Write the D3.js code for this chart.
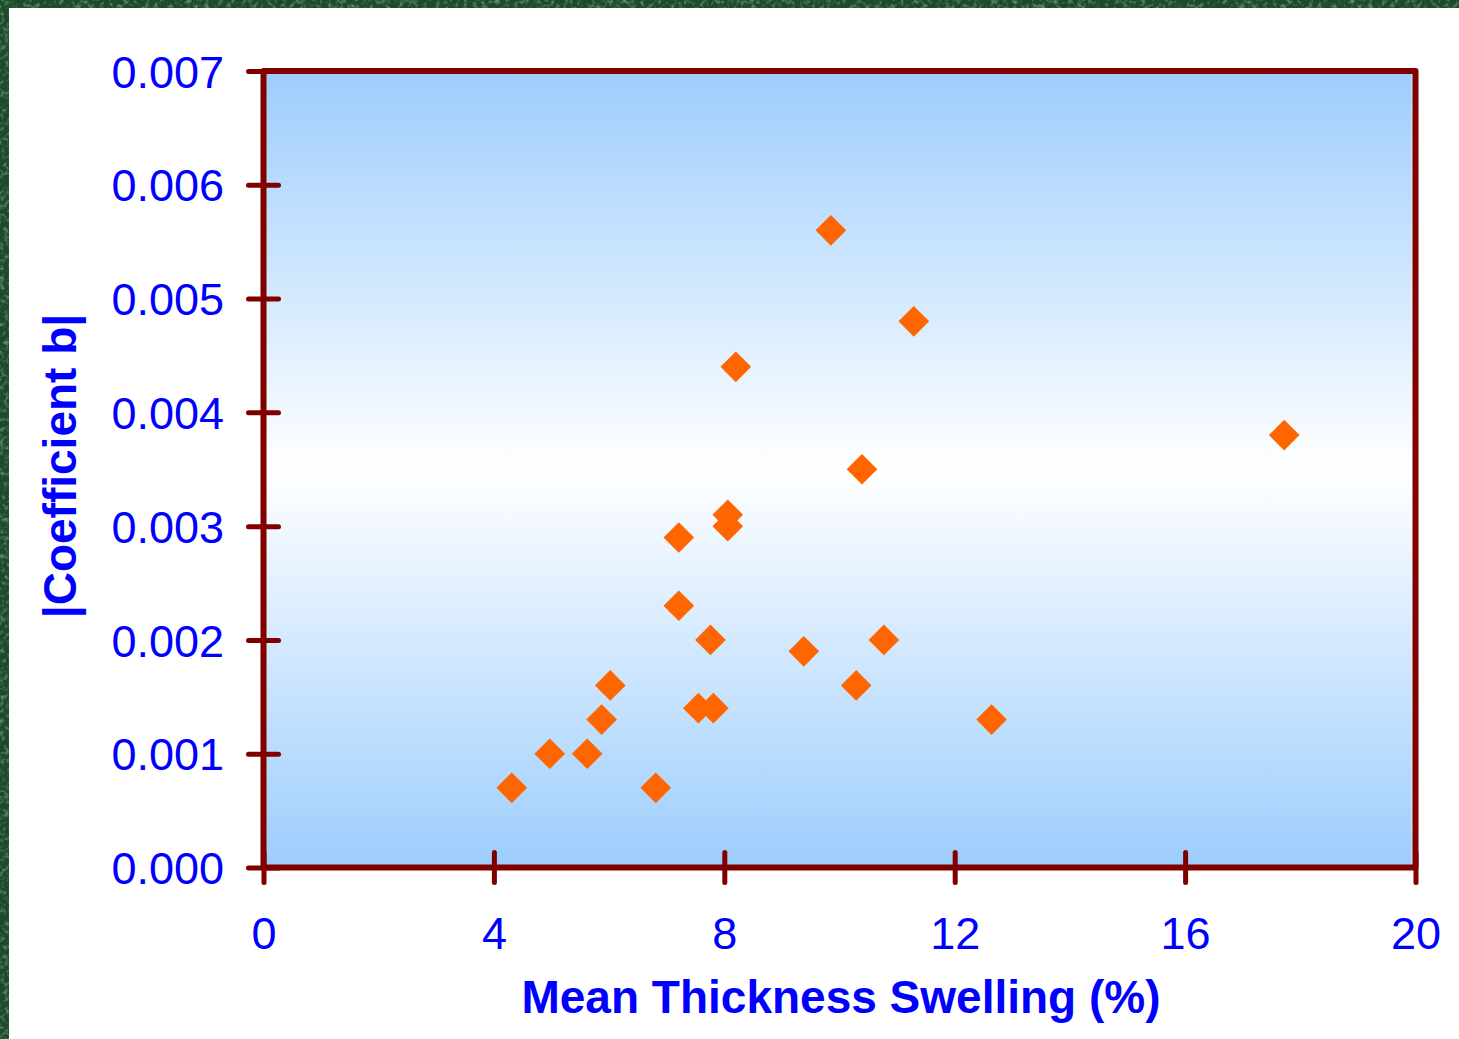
<!DOCTYPE html>
<html>
<head>
<meta charset="utf-8">
<script src="https://cdn.jsdelivr.net/npm/d3@7"></script>
<style>
  html, body { margin: 0; padding: 0; background: #ffffff; }
  svg { display: block; }
</style>
</head>
<body>
<svg id="chart" width="1459" height="1039"></svg>
<script>
// Mean thickness swelling (%) and |coefficient b| for each board
const swelling = [4.31, 4.97, 5.62, 5.87, 6.02, 6.81, 7.21, 7.21, 7.55, 7.81, 7.76, 8.06, 8.06, 8.20, 9.38, 9.85, 10.29, 10.39, 10.77, 11.29, 12.64, 17.72];
const coefB    = [0.0007, 0.0010, 0.0010, 0.0013, 0.0016, 0.0007, 0.0029, 0.0023, 0.0014, 0.0014, 0.0020, 0.0031, 0.0030, 0.0044, 0.0019, 0.0056, 0.0016, 0.0035, 0.0020, 0.0048, 0.0013, 0.0038];

const xTicks = [0, 4, 8, 12, 16, 20];
const yTicks = [0, 0.001, 0.002, 0.003, 0.004, 0.005, 0.006, 0.007];
const xTitle = "Mean Thickness Swelling (%)";
const yTitle = "|Coefficient b|";

const W = 1459, H = 1039;
const plot = { left: 263.5, top: 71, right: 1415.5, bottom: 867.5 };
const axisColor = "#800000";
const textColor = "#0000ff";
const font = "'Liberation Sans', Arial, sans-serif";

const svg = d3.select("#chart");
const defs = svg.append("defs");

// Textured green frame along the top and left edges
const grain = defs.append("filter").attr("id", "grain")
  .attr("x", 0).attr("y", 0).attr("width", 1).attr("height", 1);
grain.append("feTurbulence").attr("type", "fractalNoise")
  .attr("baseFrequency", "0.22").attr("numOctaves", 3).attr("seed", 7);
grain.append("feColorMatrix").attr("type", "matrix")
  .attr("values", "0 0 0 0 0.42  0 0 0 0 0.66  0 0 0 0 0.50  0 0 0 1.6 -0.75");

const frameBands = [
  { x: 0, y: 0, w: W, h: 8 },
  { x: 0, y: 0, w: 9, h: H }
];
frameBands.forEach(b => {
  svg.append("rect").attr("x", b.x).attr("y", b.y).attr("width", b.w).attr("height", b.h)
    .attr("fill", "#1c4a2b");
  svg.append("rect").attr("x", b.x).attr("y", b.y).attr("width", b.w).attr("height", b.h)
    .attr("fill", "#000").attr("filter", "url(#grain)").attr("opacity", 0.8);
});

// Plot background: light blue at top and bottom, white in the middle
const grad = defs.append("linearGradient").attr("id", "plotBg")
  .attr("x1", 0).attr("y1", 0).attr("x2", 0).attr("y2", 1);
grad.append("stop").attr("offset", "0%").attr("stop-color", "#9dcdfd");
grad.append("stop").attr("offset", "50%").attr("stop-color", "#ffffff");
grad.append("stop").attr("offset", "100%").attr("stop-color", "#9dcdfd");

const x = d3.scaleLinear().domain([0, 20]).range([plot.left, plot.right]);
const y = d3.scaleLinear().domain([0, 0.007]).range([plot.bottom, plot.top]);

svg.append("rect")
  .attr("x", plot.left).attr("y", plot.top)
  .attr("width", plot.right - plot.left).attr("height", plot.bottom - plot.top)
  .attr("fill", "url(#plotBg)");

// thin light line just inside the right border
svg.append("line")
  .attr("x1", plot.right - 3.5).attr("x2", plot.right - 3.5)
  .attr("y1", plot.top + 3).attr("y2", plot.bottom - 3)
  .attr("stroke", "#ffffff").attr("stroke-width", 1).attr("opacity", 0.8);

// Points
const diamond = d3.symbol().type(d3.symbolSquare).size(470);
svg.append("g").selectAll("path")
  .data(swelling.map((s, i) => ({ s, b: coefB[i] })))
  .join("path")
  .attr("d", diamond)
  .attr("transform", d => `translate(${x(d.s)},${y(d.b)}) rotate(45)`)
  .attr("fill", "#ff6600");

// Frame
svg.append("rect")
  .attr("x", plot.left).attr("y", plot.top)
  .attr("width", plot.right - plot.left).attr("height", plot.bottom - plot.top)
  .attr("fill", "none").attr("stroke", axisColor).attr("stroke-width", 6)
  .attr("stroke-linejoin", "round");

// Axes (ticks cross the axis line)
const tickLen = 15;

const gx = svg.append("g")
  .attr("transform", `translate(0,${plot.bottom})`)
  .call(d3.axisBottom(x).tickValues(xTicks).tickFormat(d3.format("d"))
    .tickSizeInner(tickLen).tickSizeOuter(0).tickPadding(34.5));
gx.select(".domain").remove();
gx.selectAll(".tick line")
  .attr("y1", -tickLen).attr("y2", tickLen)
  .attr("stroke", axisColor).attr("stroke-width", 5).attr("stroke-linecap", "round");
gx.selectAll(".tick text")
  .attr("fill", textColor).attr("font-family", font).attr("font-size", 45);

const gy = svg.append("g")
  .attr("transform", `translate(${plot.left},0)`)
  .call(d3.axisLeft(y).tickValues(yTicks).tickFormat(d3.format(".3f"))
    .tickSizeInner(tickLen).tickSizeOuter(0).tickPadding(24.5));
gy.select(".domain").remove();
gy.selectAll(".tick line")
  .attr("x1", tickLen).attr("x2", -tickLen)
  .attr("stroke", axisColor).attr("stroke-width", 5).attr("stroke-linecap", "round");
gy.selectAll(".tick text")
  .attr("fill", textColor).attr("font-family", font).attr("font-size", 45)
  .attr("dy", "0.36em");

// Axis titles
svg.append("text")
  .attr("x", 841).attr("y", 1013)
  .attr("text-anchor", "middle")
  .attr("fill", textColor).attr("font-family", font)
  .attr("font-size", 46).attr("font-weight", "bold")
  .text(xTitle);

svg.append("text")
  .attr("transform", "translate(76,466) rotate(-90)")
  .attr("text-anchor", "middle")
  .attr("fill", textColor).attr("font-family", font)
  .attr("font-size", 46).attr("font-weight", "bold")
  .text(yTitle);
</script>
</body>
</html>
